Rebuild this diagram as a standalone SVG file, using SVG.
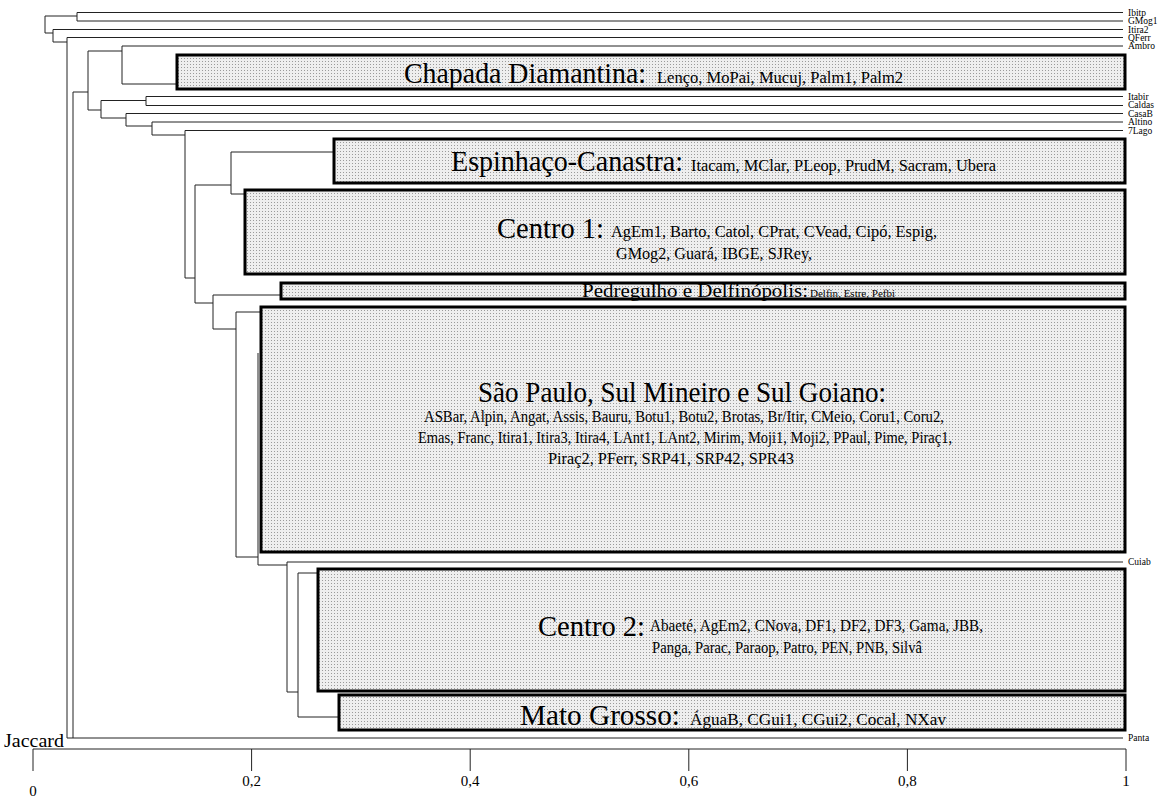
<svg xmlns="http://www.w3.org/2000/svg" width="1166" height="800" viewBox="0 0 1166 800">
<style>
.ln{stroke:#222;stroke-width:1;fill:none}
.box{fill:url(#dots);stroke:#000;stroke-width:3}
.t{font-family:"Liberation Serif","Times New Roman",serif;fill:#000}
.big{font-size:29px}
.sm{font-size:16px}
.leaf{font-size:9.5px}
.ax{font-size:15px}
</style>
<defs>
<pattern id="dots" width="3" height="3" patternUnits="userSpaceOnUse">
<rect width="3" height="3" fill="#eeeeee"/>
<rect x="1" y="1" width="1" height="1" fill="#9a9a9a"/>
</pattern>
</defs>
<rect width="1166" height="800" fill="#fff"/>

<g id="connectors" class="ln">
<path d="M77 12.5H1123M77 21H1123M77 12.5V21M45 16H77M45 16V33M45 33H53M53 29.5H1123M53 29.5V42M53 42H67M67 37.5H1123M67 37.5V738M67 738H1123"/>
<path d="M73 92V738M73 92H88M88 51V110M88 51H122M122 46V84M122 46H1123M122 84H177"/>
<path d="M88 110H101M101 100.5V118M101 100.5H146M146 96.5V105.5M146 96.5H1123M146 105.5H1123M101 118H126M126 113.5V126M126 113.5H1123M126 126H152M152 122V135M152 122H1123M152 135H185M185 130.5V278M185 130.5H1123"/>
<path d="M185 278H195M195 185V303M195 185H231M231 152V194M231 152H334M231 194H245M195 303H213M213 295V329M213 295H281M213 329H236M236 312V557M236 312H261M236 557H258M258 353V565M258 565H287M287 562V692M287 562H1123M287 692H298M298 573V717M298 573H318M298 717H339"/>
</g>

<g id="leaves" class="t leaf">
<text x="1128" y="15.5">Ibitp</text>
<text x="1128" y="24">GMog1</text>
<text x="1128" y="32.5">Itira2</text>
<text x="1128" y="40.5">QFerr</text>
<text x="1128" y="49">Ambro</text>
<text x="1128" y="99.5">Itabir</text>
<text x="1128" y="108">Caldas</text>
<text x="1128" y="116.5">CasaB</text>
<text x="1128" y="125">Altino</text>
<text x="1128" y="133.5">7Lago</text>
<text x="1128" y="565">Cuiab</text>
<text x="1128" y="741">Panta</text>
</g>

<g id="chapada">
<rect class="box" x="177" y="55" width="948" height="34"/>
<text class="t big" x="404" y="83" textLength="242" lengthAdjust="spacingAndGlyphs">Chapada Diamantina:</text>
<text class="t sm" x="657" y="83" textLength="246" lengthAdjust="spacingAndGlyphs">Lenço, MoPai, Mucuj, Palm1, Palm2</text>
</g>

<g id="espinhaco">
<rect class="box" x="334" y="139" width="791" height="44"/>
<text class="t big" x="451" y="171" textLength="232" lengthAdjust="spacingAndGlyphs">Espinhaço-Canastra:</text>
<text class="t sm" x="691" y="171" textLength="305" lengthAdjust="spacingAndGlyphs">Itacam, MClar, PLeop, PrudM, Sacram, Ubera</text>
</g>

<g id="centro1">
<rect class="box" x="245" y="190" width="880" height="84"/>
<text class="t big" x="497" y="238" textLength="107" lengthAdjust="spacingAndGlyphs">Centro 1:</text>
<text class="t sm" x="611" y="237" textLength="326" lengthAdjust="spacingAndGlyphs">AgEm1, Barto, Catol, CPrat, CVead, Cipó, Espig,</text>
<text class="t sm" x="616" y="259" textLength="196" lengthAdjust="spacingAndGlyphs">GMog2, Guará, IBGE, SJRey,</text>
</g>

<g id="pedregulho">
<rect class="box" x="281" y="283" width="844" height="16"/>
<text class="t" style="font-size:19px" x="582" y="297" textLength="226" lengthAdjust="spacingAndGlyphs">Pedregulho e Delfinópolis:</text>
<text class="t" style="font-size:10.5px" x="810" y="297" textLength="85" lengthAdjust="spacingAndGlyphs">Delfin, Estre, Pefbi</text>
</g>

<g id="saopaulo">
<rect class="box" x="261" y="307" width="864" height="245"/>
<text class="t big" x="478" y="402" textLength="408" lengthAdjust="spacingAndGlyphs">São Paulo, Sul Mineiro e Sul Goiano:</text>
<text class="t sm" x="424" y="422" textLength="520" lengthAdjust="spacingAndGlyphs">ASBar, Alpin, Angat, Assis, Bauru, Botu1, Botu2, Brotas, Br/Itir, CMeio, Coru1, Coru2,</text>
<text class="t sm" x="418" y="443" textLength="534" lengthAdjust="spacingAndGlyphs">Emas, Franc, Itira1, Itira3, Itira4, LAnt1, LAnt2, Mirim, Moji1, Moji2, PPaul, Pime, Piraç1,</text>
<text class="t sm" x="548" y="464" textLength="246" lengthAdjust="spacingAndGlyphs">Piraç2, PFerr, SRP41, SRP42, SPR43</text>
</g>

<g id="centro2">
<rect class="box" x="318" y="569" width="807" height="122"/>
<text class="t big" x="538" y="636" textLength="107" lengthAdjust="spacingAndGlyphs">Centro 2:</text>
<text class="t sm" x="650" y="631" textLength="333" lengthAdjust="spacingAndGlyphs">Abaeté, AgEm2, CNova, DF1, DF2, DF3,  Gama, JBB,</text>
<text class="t sm" x="652" y="653" textLength="270" lengthAdjust="spacingAndGlyphs">Panga, Parac, Paraop, Patro, PEN, PNB, Silvâ</text>
</g>

<g id="matogrosso">
<rect class="box" x="339" y="695" width="786" height="35"/>
<text class="t big" x="520" y="725" textLength="160" lengthAdjust="spacingAndGlyphs">Mato Grosso:</text>
<text class="t sm" x="690" y="725" textLength="256" lengthAdjust="spacingAndGlyphs">ÁguaB, CGui1, CGui2, Cocal, NXav</text>
</g>

<g id="axis">
<path class="ln" d="M33 749H1126M33 749V771M251.6 749V771M470.2 749V771M688.8 749V771M907.4 749V771M1126 749V771"/>
<text class="t" style="font-size:18px" x="4" y="747" textLength="60" lengthAdjust="spacingAndGlyphs">Jaccard</text>
<g class="t ax" text-anchor="middle">
<text x="33" y="796">0</text>
<text x="251.6" y="786">0,2</text>
<text x="470.2" y="786">0,4</text>
<text x="688.8" y="786">0,6</text>
<text x="907.4" y="786">0,8</text>
<text x="1126" y="786">1</text>
</g>
</g>
</svg>
